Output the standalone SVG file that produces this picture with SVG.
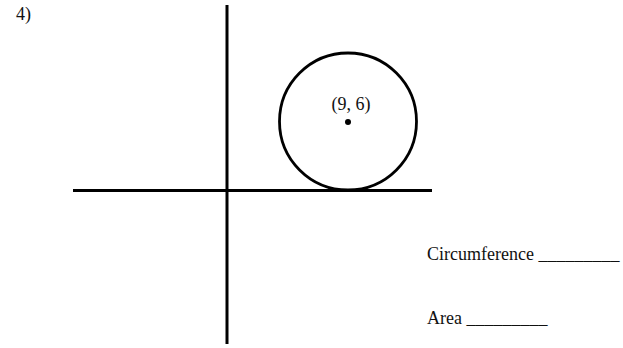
<svg xmlns="http://www.w3.org/2000/svg" width="623" height="348" viewBox="0 0 623 348">
<style>
.t{font-family:"Liberation Serif","Times New Roman",serif;font-size:18px;fill:#111}
.ax{stroke:#000;stroke-width:3;fill:none}
</style>
<rect width="623" height="348" fill="#fff"/>
<text class="t" x="16" y="20">4)</text>
<g id="axes">
<line class="ax" x1="73" y1="190.5" x2="432" y2="190.5"/>
<line class="ax" x1="227" y1="5" x2="227" y2="344"/>
</g>
<g id="circle">
<circle cx="348" cy="121.5" r="68.5" fill="none" stroke="#000" stroke-width="2.8"/>
<circle cx="348" cy="122" r="3" fill="#000"/>
<text class="t" x="351" y="110" text-anchor="middle">(9, 6)</text>
</g>
<text class="t" x="427" y="260">Circumference _________</text>
<text class="t" x="427" y="324">Area _________</text>
</svg>
